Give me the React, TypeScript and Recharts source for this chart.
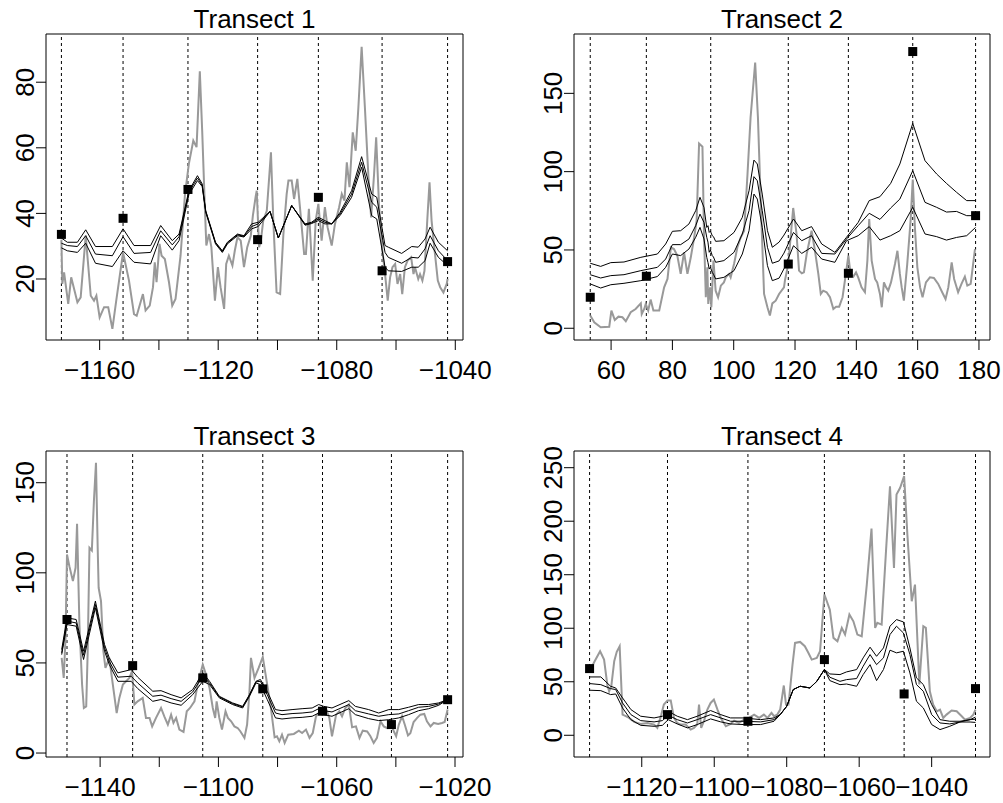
import React from 'react';
import { ComposedChart, Line, Scatter, XAxis, YAxis, ReferenceLine, ReferenceArea } from 'recharts';

type Pt = [number, number];

// ---- Transect 1 ----
const t1Breaks = [-1172.9, -1152.1, -1130.2, -1106.7, -1086.2, -1064.7, -1042.6];
const t1Sites: Pt[] = [
  [-1172.9, 33.6], [-1152.1, 38.5], [-1130.2, 47.3], [-1106.7, 32.0], [-1086.2, 44.9], [-1064.7, 22.5], [-1042.6, 25.3],
];
const t1Obs: Pt[] = [
  [-1172.9, 32.0], [-1172.6, 18.5], [-1172.0, 22.0], [-1170.6, 12.4], [-1169.6, 20.5], [-1167.5, 12.9], [-1166.4, 14.4],
  [-1164.7, 33.2], [-1163.0, 14.9], [-1161.9, 13.4], [-1161.1, 14.9], [-1160.0, 8.3], [-1158.5, 11.4], [-1157.1, 11.4],
  [-1155.7, 4.8], [-1154.4, 13.4], [-1152.1, 28.1], [-1150.1, 19.5], [-1148.4, 9.3], [-1147.5, 8.8], [-1145.4, 15.4],
  [-1144.5, 10.4], [-1143.1, 11.9], [-1142.0, 17.5], [-1141.4, 25.1], [-1140.8, 19.0], [-1139.8, 30.7], [-1139.1, 27.1],
  [-1138.0, 26.1], [-1136.6, 19.0], [-1135.5, 11.9], [-1134.4, 13.9], [-1132.7, 27.1], [-1131.2, 45.9], [-1129.9, 55.1],
  [-1128.4, 62.2], [-1127.3, 60.2], [-1126.2, 83.3], [-1125.4, 65.2], [-1124.5, 41.9], [-1124.0, 30.2], [-1123.1, 33.7],
  [-1122.3, 29.7], [-1121.1, 13.4], [-1120.1, 23.6], [-1119.2, 17.5], [-1118.0, 10.9], [-1117.3, 24.6], [-1116.4, 27.1],
  [-1115.2, 24.1], [-1114.4, 28.6], [-1113.5, 32.7], [-1112.4, 31.7], [-1111.3, 23.6], [-1110.2, 29.7], [-1109.0, 33.2],
  [-1108.3, 39.3], [-1107.4, 44.9], [-1107.0, 46.9], [-1106.2, 29.7], [-1105.6, 31.7], [-1104.8, 37.8], [-1103.6, 40.8],
  [-1102.2, 58.6], [-1101.4, 37.8], [-1100.3, 15.9], [-1099.1, 15.4], [-1098.0, 33.7], [-1096.9, 45.9], [-1096.3, 50.0],
  [-1095.2, 50.0], [-1094.4, 44.4], [-1093.3, 50.5], [-1092.2, 39.8], [-1091.0, 27.6], [-1090.4, 27.6], [-1089.4, 41.4],
  [-1088.1, 19.5], [-1087.1, 37.8], [-1086.2, 42.9], [-1085.1, 31.7], [-1084.0, 41.9], [-1083.1, 35.8], [-1081.7, 30.2],
  [-1080.6, 36.8], [-1079.2, 41.9], [-1078.3, 45.9], [-1077.4, 43.9], [-1076.6, 55.6], [-1075.7, 48.0], [-1074.6, 64.7],
  [-1073.6, 59.1], [-1072.7, 72.3], [-1071.6, 90.8], [-1070.5, 72.3], [-1069.3, 51.0], [-1068.4, 38.8], [-1067.4, 52.0],
  [-1066.7, 63.2], [-1065.7, 41.9], [-1064.6, 28.6], [-1063.7, 21.5], [-1062.8, 13.4], [-1062.0, 20.5], [-1061.2, 23.6],
  [-1060.3, 24.6], [-1059.5, 18.5], [-1058.6, 21.5], [-1057.9, 15.4], [-1057.0, 23.6], [-1056.1, 25.6], [-1054.9, 26.6],
  [-1054.1, 21.5], [-1053.6, 23.6], [-1052.5, 20.0], [-1051.9, 21.5], [-1051.1, 19.5], [-1050.4, 22.5], [-1049.4, 38.8],
  [-1048.7, 49.5], [-1048.0, 37.8], [-1047.1, 29.7], [-1045.9, 19.5], [-1045.1, 17.5], [-1044.0, 15.9], [-1042.9, 18.5],
  [-1042.6, 20.0],
];
const t1FitX = [
  -1172.9, -1170.9, -1167.5, -1164.7, -1161.4, -1155.7, -1152.1, -1148.4, -1142.8, -1139.4, -1135.5, -1133.2, -1129.9,
  -1127.0, -1125.4, -1124.2, -1120.9, -1118.6, -1116.9, -1113.5, -1111.3, -1108.7, -1106.5, -1102.5, -1099.7, -1095.2,
  -1090.7, -1088.5, -1086.2, -1084.0, -1081.7, -1078.9, -1075.0, -1071.6, -1068.2, -1066.5, -1063.7, -1062.6, -1058.1,
  -1054.7, -1052.5, -1050.2, -1048.5, -1045.7, -1042.6,
];
const t1Upper = [
  32.5, 31.2, 31.2, 35.0, 29.9, 29.9, 35.3, 30.2, 30.2, 36.3, 31.7, 33.7, 46.9, 51.5, 49.0, 40.8, 31.2, 28.6, 31.2, 33.7,
  33.2, 36.8, 37.3, 40.6, 32.5, 42.4, 36.8, 37.3, 38.8, 37.8, 36.8, 40.3, 46.9, 57.3, 45.9, 44.9, 30.2, 29.7, 27.8, 29.9,
  29.7, 32.2, 35.8, 31.2, 28.6,
];
const t1Mid = [
  30.9, 30.2, 29.9, 33.2, 27.6, 27.1, 32.9, 27.8, 28.1, 34.7, 30.4, 32.9, 46.4, 50.8, 48.5, 40.6, 31.0, 28.4, 31.0, 33.5,
  33.0, 36.0, 36.8, 40.6, 32.5, 42.4, 36.6, 37.1, 38.3, 37.3, 36.8, 39.8, 45.9, 55.6, 43.4, 41.9, 28.1, 26.6, 24.8, 26.6,
  26.4, 29.2, 33.2, 28.6, 25.6,
];
const t1Lower = [
  29.5, 28.6, 28.1, 30.9, 24.8, 23.8, 28.6, 25.1, 24.6, 33.2, 28.8, 31.7, 45.7, 50.0, 48.2, 40.3, 30.7, 28.1, 30.7, 33.2,
  32.8, 35.3, 36.0, 40.6, 32.5, 42.4, 36.4, 36.9, 37.8, 36.8, 36.8, 39.3, 44.9, 54.1, 39.3, 38.3, 23.6, 22.5, 22.3, 23.6,
  23.6, 25.6, 30.9, 26.6, 24.1,
];

// ---- Transect 2 ----
const t2Breaks = [53.2, 71.5, 92.5, 117.8, 137.4, 158.4, 178.9];
const t2Sites: Pt[] = [[53.2, 19.8], [71.5, 33.2], [117.8, 41.0], [137.4, 35.1], [158.4, 176.7], [178.9, 71.9]];
const t2Obs: Pt[] = [
  [53.2, 8.1], [54.5, 3.8], [56.6, 0.6], [59.4, 1.0], [60.1, 11.3], [61.2, 5.3], [62.4, 7.4], [63.7, 7.0], [64.8, 4.5],
  [66.4, 10.2], [68.0, 12.3], [69.7, 15.9], [70.0, 9.1], [70.8, 12.3], [71.3, 15.5], [72.1, 11.3], [72.9, 18.3],
  [73.8, 11.3], [75.7, 11.3], [77.3, 26.1], [78.4, 31.5], [79.5, 51.7], [80.5, 50.6], [81.6, 46.4], [82.7, 34.7],
  [83.8, 48.5], [84.9, 34.7], [86.0, 45.3], [87.1, 58.1], [87.9, 68.7], [88.7, 118.0], [89.8, 115.9], [90.3, 60.2],
  [90.9, 19.8], [91.4, 38.9], [91.7, 15.5], [92.3, 26.1], [92.7, 13.4], [93.4, 43.2], [94.1, 24.0], [94.9, 19.8],
  [95.8, 27.2], [96.8, 29.3], [97.4, 32.5], [98.5, 34.7], [99.0, 32.5], [100.1, 41.0], [101.2, 51.7], [102.3, 58.1],
  [103.4, 62.3], [104.5, 98.5], [105.5, 134.6], [107.0, 169.7], [107.9, 134.6], [108.8, 81.5], [109.9, 21.9],
  [111.0, 13.4], [111.8, 8.1], [112.6, 15.9], [113.7, 17.6], [114.8, 21.9], [116.4, 26.1], [116.7, 30.4], [117.8, 41.0],
  [119.4, 76.8], [120.5, 60.2], [121.3, 36.8], [122.2, 35.1], [122.9, 35.7], [123.8, 47.4], [125.4, 62.3], [126.5, 49.5],
  [127.6, 34.7], [128.4, 21.9], [129.2, 24.0], [130.3, 23.0], [131.4, 19.8], [132.5, 12.3], [133.4, 13.8], [134.4, 13.8],
  [135.5, 19.8], [136.6, 35.0], [137.4, 46.4], [138.1, 34.7], [139.0, 33.0], [139.9, 35.7], [140.6, 32.5], [141.7, 26.1],
  [142.8, 23.0], [143.6, 43.2], [144.2, 69.8], [145.0, 43.2], [146.1, 31.5], [146.8, 29.3], [147.7, 21.9], [148.3, 13.4],
  [149.0, 29.3], [149.7, 26.1], [150.4, 24.0], [151.3, 29.3], [152.6, 41.0], [153.4, 49.5], [154.2, 34.7], [154.8, 26.1],
  [155.5, 17.6], [156.6, 41.0], [157.7, 68.7], [158.4, 95.0], [159.1, 64.4], [159.9, 38.9], [160.8, 26.1], [161.6, 19.8],
  [162.7, 29.3], [164.0, 32.5], [165.3, 32.1], [166.7, 28.3], [168.0, 23.0], [169.1, 18.7], [170.0, 26.1], [171.1, 42.1],
  [171.9, 31.5], [173.2, 23.0], [174.3, 28.3], [175.4, 33.0], [176.2, 27.2], [177.3, 28.3], [178.7, 50.6],
];
const t2FitX = [
  53.2, 56.6, 59.9, 64.2, 69.7, 75.1, 77.8, 80.0, 82.7, 85.4, 87.6, 89.0, 90.3, 91.2, 91.6, 92.0, 92.4, 93.0, 93.4, 94.1,
  96.8, 100.1, 102.8, 105.0, 106.6, 107.7, 109.3, 111.0, 112.6, 114.8, 116.4, 119.5, 122.2, 125.4, 128.7, 133.0, 136.8,
  140.6, 144.2, 147.7, 151.2, 154.2, 158.4, 162.4, 166.2, 169.4, 172.7, 176.0, 178.9,
];
const t2Upper = [
  41.5, 39.5, 41.9, 42.3, 45.3, 47.4, 53.8, 61.9, 62.3, 66.6, 75.1, 83.6, 77.2, 64.4, 65.5, 61.2, 62.0, 59.1, 58.5, 55.5,
  55.9, 61.2, 70.8, 87.8, 107.4, 104.9, 85.7, 62.3, 51.7, 55.0, 59.5, 69.8, 62.3, 64.9, 53.8, 48.5, 58.1, 67.6, 81.5,
  84.0, 92.5, 104.9, 130.8, 107.0, 98.5, 92.5, 86.8, 81.5, 81.5,
];
const t2Mid = [
  34.2, 32.1, 33.6, 34.2, 36.8, 38.9, 44.2, 53.4, 53.4, 57.0, 65.5, 72.9, 67.6, 58.1, 55.0, 48.5, 50.0, 46.4, 45.5, 42.1,
  43.2, 48.5, 60.2, 75.1, 96.8, 94.2, 75.1, 51.7, 41.5, 43.0, 48.0, 61.2, 55.9, 59.1, 47.8, 47.4, 57.0, 65.5, 73.4,
  69.5, 76.8, 82.5, 100.6, 80.4, 77.2, 74.2, 74.6, 71.9, 71.9,
];
const t2Lower = [
  28.3, 25.7, 27.8, 28.7, 30.4, 33.0, 38.9, 47.4, 46.4, 50.6, 58.1, 64.4, 57.0, 45.3, 42.0, 37.8, 39.0, 35.7, 34.5, 31.5,
  32.5, 36.8, 47.4, 62.3, 85.7, 82.5, 64.4, 40.0, 30.4, 32.0, 38.0, 52.7, 47.8, 51.7, 44.2, 42.1, 55.9, 59.1, 64.9,
  56.3, 59.1, 62.3, 77.2, 60.2, 58.5, 56.3, 58.0, 59.1, 64.4,
];

// ---- Transect 3 ----
const t3Breaks = [-1151.2, -1129.0, -1105.3, -1085.0, -1064.8, -1041.5, -1022.5];
const t3Sites: Pt[] = [
  [-1151.2, 74.1], [-1129.0, 48.5], [-1105.3, 41.7], [-1085.0, 35.6], [-1064.8, 23.2], [-1041.5, 15.8], [-1022.5, 29.6],
];
const t3Obs: Pt[] = [
  [-1153.0, 52.8], [-1152.3, 41.7], [-1151.7, 63.9], [-1151.2, 110.2], [-1150.4, 103.7], [-1149.2, 95.4], [-1148.3, 102.8],
  [-1147.8, 127.2], [-1147.0, 71.3], [-1146.1, 38.0], [-1145.5, 25.0], [-1144.7, 25.9], [-1144.2, 56.5], [-1143.6, 113.9],
  [-1142.8, 112.4], [-1142.1, 139.8], [-1141.4, 161.1], [-1140.8, 112.1], [-1140.5, 91.7], [-1139.7, 84.3], [-1138.9, 56.5],
  [-1138.2, 47.2], [-1136.9, 52.8], [-1135.7, 38.0], [-1134.4, 22.2], [-1133.5, 30.6], [-1132.3, 38.0], [-1130.1, 41.7],
  [-1129.2, 45.4], [-1128.4, 26.9], [-1127.3, 28.7], [-1125.6, 30.6], [-1124.5, 19.5], [-1123.3, 19.5], [-1122.4, 14.8],
  [-1121.1, 19.5], [-1119.4, 25.0], [-1118.3, 20.4], [-1117.1, 15.8], [-1116.0, 21.3], [-1115.2, 16.7], [-1114.3, 19.5],
  [-1113.2, 13.0], [-1111.8, 11.7], [-1110.7, 23.2], [-1109.6, 25.0], [-1108.1, 28.7], [-1107.0, 38.0], [-1105.3, 49.1],
  [-1104.2, 43.5], [-1103.0, 36.1], [-1101.9, 25.0], [-1101.1, 19.5], [-1100.6, 28.7], [-1099.7, 19.5], [-1098.8, 13.0],
  [-1097.6, 23.2], [-1096.8, 19.5], [-1095.7, 17.6], [-1094.6, 14.8], [-1093.5, 13.9], [-1092.6, 12.1], [-1091.2, 8.4],
  [-1090.3, 15.8], [-1089.5, 34.3], [-1089.0, 52.8], [-1087.8, 41.7], [-1086.4, 47.2], [-1085.0, 53.2], [-1083.5, 38.0],
  [-1082.4, 26.9], [-1081.0, 8.7], [-1080.2, 9.3], [-1079.4, 6.5], [-1078.5, 10.2], [-1077.6, 5.6], [-1076.4, 10.2],
  [-1074.5, 10.6], [-1072.8, 12.4], [-1071.7, 11.1], [-1070.4, 13.0], [-1069.2, 8.4], [-1068.1, 11.1], [-1067.0, 20.4],
  [-1066.1, 22.2], [-1064.8, 21.3], [-1063.6, 24.6], [-1062.5, 19.5], [-1061.6, 9.3], [-1060.2, 21.3], [-1059.1, 23.2],
  [-1058.2, 20.4], [-1057.1, 25.0], [-1055.9, 26.9], [-1054.8, 14.3], [-1053.5, 14.8], [-1052.3, 8.4], [-1051.2, 12.4],
  [-1049.7, 12.0], [-1048.6, 9.3], [-1047.5, 5.6], [-1046.4, 8.4], [-1045.2, 17.6], [-1044.1, 14.8], [-1043.0, 13.9],
  [-1041.5, 15.4], [-1040.7, 12.1], [-1039.9, 9.3], [-1039.0, 15.8], [-1037.9, 20.4], [-1037.0, 15.8], [-1035.9, 9.8],
  [-1035.1, 11.0], [-1034.0, 17.2], [-1032.8, 19.5], [-1031.7, 21.3], [-1030.4, 21.7], [-1029.5, 17.6], [-1028.3, 14.8],
  [-1027.2, 16.7], [-1025.7, 16.1], [-1024.4, 16.7], [-1023.5, 17.2], [-1022.5, 24.1],
];
const t3FitX = [
  -1153.0, -1151.2, -1148.1, -1145.6, -1141.6, -1138.5, -1136.9, -1134.0, -1129.5, -1127.3, -1122.2, -1119.4, -1116.0,
  -1112.6, -1108.7, -1105.3, -1103.0, -1099.7, -1095.2, -1091.8, -1089.5, -1087.3, -1085.8, -1083.5, -1080.7, -1078.5,
  -1075.1, -1071.7, -1068.3, -1066.1, -1064.4, -1061.6, -1055.9, -1053.7, -1049.2, -1045.8, -1042.4, -1039.0, -1035.7,
  -1032.3, -1028.9, -1025.5, -1022.5,
];
const t3Upper = [
  57.4, 75.0, 74.1, 56.5, 84.3, 60.2, 52.8, 44.5, 46.3, 42.1, 34.3, 34.6, 32.4, 30.6, 35.2, 44.5, 39.8, 31.5, 27.8, 25.9,
  32.4, 39.8, 40.8, 34.3, 24.1, 23.5, 24.1, 24.6, 25.0, 26.9, 25.9, 25.0, 29.1, 25.9, 24.1, 22.2, 24.1, 24.1, 25.4, 26.9,
  26.9, 27.8, 29.7,
];
const t3Mid = [
  55.6, 73.2, 72.2, 54.3, 82.4, 58.4, 50.9, 42.1, 42.6, 38.9, 31.5, 32.1, 30.2, 28.7, 33.9, 42.6, 38.9, 31.1, 27.4, 25.6,
  32.1, 39.5, 39.8, 32.4, 22.2, 21.3, 21.9, 22.2, 22.8, 24.6, 23.5, 22.8, 26.9, 23.5, 21.7, 20.4, 21.3, 21.7, 23.5, 25.4,
  25.9, 27.2, 29.7,
];
const t3Lower = [
  54.6, 71.3, 70.4, 51.9, 80.6, 56.5, 49.1, 39.8, 39.8, 35.8, 28.7, 29.7, 27.8, 26.5, 32.4, 39.8, 38.0, 30.6, 26.9, 25.0,
  31.5, 38.9, 38.0, 29.7, 19.5, 18.9, 19.5, 19.8, 20.4, 22.2, 21.3, 20.4, 24.6, 21.3, 19.1, 18.0, 18.5, 19.5, 21.3, 23.5,
  24.6, 26.5, 29.7,
];

// ---- Transect 4 ----
const t4Breaks = [-1134.4, -1112.9, -1090.7, -1069.6, -1047.6, -1027.9];
const t4Sites: Pt[] = [
  [-1134.4, 62.3], [-1112.9, 19.3], [-1090.7, 13.1], [-1069.6, 70.7], [-1047.6, 38.6], [-1027.9, 43.6],
];
const t4Obs: Pt[] = [
  [-1134.4, 59.8], [-1133.0, 69.2], [-1131.5, 78.5], [-1130.4, 70.7], [-1129.5, 47.0], [-1129.0, 41.1], [-1128.4, 46.0],
  [-1127.6, 69.2], [-1126.9, 78.0], [-1126.1, 83.2], [-1125.3, 19.3], [-1124.4, 17.8], [-1123.5, 16.2], [-1122.1, 12.5],
  [-1120.3, 10.6], [-1118.4, 11.5], [-1116.6, 10.0], [-1115.7, 6.9], [-1114.6, 19.3], [-1113.9, 28.7], [-1112.9, 32.4],
  [-1112.0, 32.4], [-1111.1, 16.2], [-1110.2, 11.5], [-1109.3, 10.0], [-1107.9, 10.0], [-1106.5, 5.3], [-1105.6, 6.9],
  [-1104.7, 10.0], [-1104.2, 28.7], [-1103.6, 6.9], [-1102.8, 13.7], [-1101.9, 24.0], [-1101.0, 30.2], [-1100.1, 33.3],
  [-1099.1, 24.0], [-1098.2, 16.2], [-1096.8, 8.4], [-1095.5, 10.6], [-1094.5, 13.7], [-1093.2, 11.5], [-1091.8, 14.6],
  [-1090.4, 16.2], [-1089.0, 19.3], [-1087.6, 16.2], [-1086.3, 19.3], [-1085.3, 16.2], [-1084.2, 20.9], [-1083.5, 17.8],
  [-1082.6, 19.3], [-1081.8, 24.0], [-1080.8, 46.5], [-1080.2, 28.7], [-1079.5, 28.7], [-1078.4, 66.0], [-1077.7, 86.3],
  [-1076.3, 87.2], [-1075.0, 83.2], [-1074.0, 76.9], [-1073.1, 70.7], [-1071.7, 72.3], [-1070.8, 78.5], [-1069.6, 131.5],
  [-1068.1, 117.4], [-1067.1, 91.0], [-1066.0, 87.9], [-1064.8, 100.3], [-1063.9, 94.1], [-1062.7, 112.8], [-1061.6, 106.5],
  [-1060.5, 94.1], [-1059.3, 92.5], [-1057.9, 140.8], [-1056.6, 193.1], [-1055.6, 100.3], [-1055.0, 105.0], [-1053.8, 103.4],
  [-1052.6, 172.0], [-1051.5, 232.7], [-1050.4, 156.4], [-1049.7, 224.9], [-1048.7, 231.2], [-1047.6, 242.1],
  [-1046.7, 187.5], [-1045.5, 125.2], [-1044.6, 140.8], [-1043.4, 47.4], [-1042.3, 101.9], [-1041.6, 100.3], [-1040.5, 41.1],
  [-1039.6, 28.7], [-1038.6, 22.4], [-1037.7, 24.0], [-1036.8, 16.2], [-1035.9, 19.3], [-1034.5, 23.1], [-1033.1, 22.4],
  [-1031.7, 17.8], [-1030.8, 14.6], [-1029.4, 16.2], [-1028.5, 19.3], [-1027.9, 24.0],
];
const t4FitX = [
  -1134.4, -1131.3, -1128.6, -1127.2, -1125.3, -1123.0, -1120.3, -1116.6, -1114.3, -1112.7, -1110.2, -1107.4, -1104.7,
  -1101.0, -1098.2, -1095.5, -1091.8, -1087.2, -1083.5, -1081.8, -1080.0, -1078.2, -1076.3, -1073.6, -1071.7, -1069.6,
  -1068.1, -1065.3, -1063.5, -1060.7, -1058.9, -1057.0, -1055.2, -1053.3, -1051.5, -1049.7, -1047.8, -1046.0, -1044.2,
  -1042.3, -1040.0, -1037.7, -1035.0, -1032.2, -1029.4, -1027.9,
];
const t4Upper = [
  54.5, 54.5, 45.8, 44.2, 34.9, 24.0, 17.8, 16.2, 17.8, 22.4, 17.8, 14.6, 17.8, 23.1, 19.3, 16.2, 16.2, 14.6, 16.2, 19.3,
  27.1, 42.7, 45.8, 44.2, 50.4, 61.4, 57.3, 56.7, 59.2, 61.4, 72.3, 82.3, 73.8, 81.6, 101.9, 108.1, 105.9, 81.6, 53.6,
  47.4, 28.7, 14.6, 13.1, 13.1, 14.6, 17.0,
];
const t4Mid = [
  48.3, 47.3, 43.6, 42.7, 30.2, 19.3, 13.7, 12.5, 13.7, 18.7, 14.6, 11.5, 14.6, 19.3, 16.2, 13.1, 13.1, 12.5, 14.6, 19.3,
  27.1, 42.7, 45.8, 44.2, 50.4, 61.4, 54.2, 50.4, 52.0, 53.0, 64.5, 75.4, 66.0, 72.3, 94.1, 101.9, 95.6, 75.4, 47.4,
  41.1, 19.3, 11.5, 10.6, 12.4, 14.6, 15.0,
];
const t4Lower = [
  42.1, 41.7, 38.0, 38.6, 25.5, 14.6, 9.3, 8.4, 9.3, 14.6, 10.6, 6.9, 10.0, 15.3, 12.5, 10.6, 10.0, 10.0, 13.1, 19.3,
  27.1, 42.7, 45.8, 44.2, 50.4, 61.4, 51.1, 47.3, 47.9, 45.8, 56.7, 66.0, 51.1, 61.4, 79.5, 77.0, 78.5, 58.2, 31.8,
  25.5, 10.0, 5.3, 8.4, 12.4, 12.4, 12.0,
];

const FONT = '"Liberation Sans", Arial, Helvetica, sans-serif';
const FONT_SIZE = 26;

const toPts = (pairs: Pt[]) => pairs.map(([x, y]) => ({ x, y }));
const zipPts = (xs: number[], ys: number[]) => xs.map((x, i) => ({ x, y: ys[i] }));
const fmt = (v: number) => (v < 0 ? `\u2212${Math.abs(v)}` : `${v}`);

const Square = (p: any) => <rect x={p.cx - 4.5} y={p.cy - 4.5} width={9} height={9} fill="#000" />;

interface PanelConfig {
  title: string;
  frame: { left: number; top: number; width: number; height: number };
  box: { l: number; t: number; r: number; b: number };
  xDomain: [number, number];
  yDomain: [number, number];
  xTicks: number[];
  xLabels: number[];
  yTicks: number[];
  breaks: number[];
  obs: Pt[];
  fitX: number[];
  upper: number[];
  mid: number[];
  lower: number[];
  sites: Pt[];
}

const panels: PanelConfig[] = [
  {
    title: 'Transect 1',
    frame: { left: 0, top: 0, width: 500, height: 400 },
    box: { l: 46, t: 34, r: 463, b: 340 },
    xDomain: [-1178.1, -1037.4],
    yDomain: [1.4, 94.7],
    xTicks: [-1160, -1140, -1120, -1100, -1080, -1060, -1040],
    xLabels: [-1160, -1120, -1080, -1040],
    yTicks: [20, 40, 60, 80],
    breaks: t1Breaks, obs: t1Obs, fitX: t1FitX, upper: t1Upper, mid: t1Mid, lower: t1Lower, sites: t1Sites,
  },
  {
    title: 'Transect 2',
    frame: { left: 500, top: 0, width: 503, height: 400 },
    box: { l: 574, t: 34, r: 990, b: 340 },
    xDomain: [47.9, 183.6],
    yDomain: [-7.5, 187.9],
    xTicks: [60, 80, 100, 120, 140, 160, 180],
    xLabels: [60, 80, 100, 120, 140, 160, 180],
    yTicks: [0, 50, 100, 150],
    breaks: t2Breaks, obs: t2Obs, fitX: t2FitX, upper: t2Upper, mid: t2Mid, lower: t2Lower, sites: t2Sites,
  },
  {
    title: 'Transect 3',
    frame: { left: 0, top: 400, width: 500, height: 403 },
    box: { l: 46, t: 451, r: 463, b: 757 },
    xDomain: [-1158.3, -1017.3],
    yDomain: [-2.2, 167.6],
    xTicks: [-1140, -1120, -1100, -1080, -1060, -1040, -1020],
    xLabels: [-1140, -1100, -1060, -1020],
    yTicks: [0, 50, 100, 150],
    breaks: t3Breaks, obs: t3Obs, fitX: t3FitX, upper: t3Upper, mid: t3Mid, lower: t3Lower, sites: t3Sites,
  },
  {
    title: 'Transect 4',
    frame: { left: 500, top: 400, width: 503, height: 403 },
    box: { l: 574, t: 451, r: 990, b: 757 },
    xDomain: [-1138.7, -1023.9],
    yDomain: [-20.3, 265.6],
    xTicks: [-1120, -1100, -1080, -1060, -1040],
    xLabels: [-1120, -1100, -1080, -1060, -1040],
    yTicks: [0, 50, 100, 150, 200, 250],
    breaks: t4Breaks, obs: t4Obs, fitX: t4FitX, upper: t4Upper, mid: t4Mid, lower: t4Lower, sites: t4Sites,
  },
];

function Panel({ cfg }: { cfg: PanelConfig }) {
  const { frame, box } = cfg;
  const margin = { top: box.t - frame.top, right: frame.left + frame.width - box.r, left: 0, bottom: 0 };
  const yAxisWidth = box.l - frame.left;
  const xAxisHeight = frame.top + frame.height - box.b;

  const renderXTick = (props: any) => {
    const { x, y, payload } = props;
    if (!cfg.xLabels.includes(payload.value)) return <g />;
    return (
      <text x={x} y={y + 29} textAnchor="middle" fontSize={FONT_SIZE} fontFamily={FONT} fill="#000">
        {fmt(payload.value)}
      </text>
    );
  };
  const renderYTick = (props: any) => {
    const { x, y, payload } = props;
    const tx = x - 2;
    return (
      <text x={tx} y={y} transform={`rotate(-90 ${tx} ${y})`} textAnchor="middle" fontSize={FONT_SIZE} fontFamily={FONT} fill="#000">
        {fmt(payload.value)}
      </text>
    );
  };

  const fitLines = [cfg.upper, cfg.mid, cfg.lower];

  return (
    <>
      <div
        style={{
          position: 'absolute', left: box.l, top: box.t - 28, width: box.r - box.l, textAlign: 'center',
          fontSize: FONT_SIZE, lineHeight: `${FONT_SIZE}px`, fontFamily: FONT, color: '#000',
        }}
      >
        {cfg.title}
      </div>
      <div style={{ position: 'absolute', left: frame.left, top: frame.top }}>
        <ComposedChart width={frame.width} height={frame.height} margin={margin}>
          <XAxis
            type="number" dataKey="x" domain={cfg.xDomain} allowDataOverflow ticks={cfg.xTicks} interval={0}
            axisLine={false} tickLine={{ stroke: '#000' }} tickSize={10} tickMargin={0} height={xAxisHeight} tick={renderXTick}
          />
          <YAxis
            type="number" dataKey="y" domain={cfg.yDomain} allowDataOverflow ticks={cfg.yTicks} interval={0}
            axisLine={false} tickLine={{ stroke: '#000' }} tickSize={10} tickMargin={0} width={yAxisWidth} tick={renderYTick}
          />
          {cfg.breaks.map((b) => (
            <ReferenceLine key={b} x={b} stroke="#000" strokeWidth={1} strokeDasharray="3 3" />
          ))}
          <Line data={toPts(cfg.obs)} dataKey="y" type="linear" stroke="#999999" strokeWidth={2} dot={false} isAnimationActive={false} />
          {fitLines.map((ys, i) => (
            <Line key={i} data={zipPts(cfg.fitX, ys)} dataKey="y" type="linear" stroke="#000" strokeWidth={1} dot={false} isAnimationActive={false} />
          ))}
          <Scatter data={toPts(cfg.sites)} dataKey="y" shape={Square} isAnimationActive={false} />
          <ReferenceArea
            x1={cfg.xDomain[0]} x2={cfg.xDomain[1]} y1={cfg.yDomain[0]} y2={cfg.yDomain[1]}
            fill="none" stroke="#000" strokeWidth={1} ifOverflow="visible"
          />
        </ComposedChart>
      </div>
    </>
  );
}

export default function App() {
  return (
    <div style={{ position: 'absolute', left: 0, top: 0, width: 1003, height: 803, background: '#fff' }}>
      {panels.map((p) => (
        <Panel key={p.title} cfg={p} />
      ))}
    </div>
  );
}
